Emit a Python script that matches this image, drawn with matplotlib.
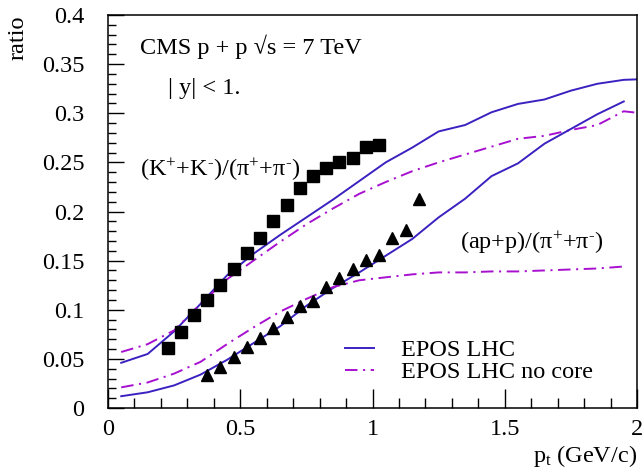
import numpy as np
import matplotlib
matplotlib.use("Agg")
from matplotlib import pyplot as plt
from matplotlib.ticker import MultipleLocator, FuncFormatter

# CMS data points
pt_kpi = [0.225, 0.275, 0.325, 0.375, 0.425, 0.475, 0.525, 0.575, 0.625,
          0.675, 0.725, 0.775, 0.825, 0.875, 0.925, 0.975, 1.025]
ratio_kpi = [0.0615, 0.0775, 0.0945, 0.1095, 0.125, 0.1415, 0.158, 0.173, 0.190,
             0.2063, 0.2237, 0.236, 0.2445, 0.2503, 0.2544, 0.2657, 0.268]

pt_ppi = [0.375, 0.425, 0.475, 0.525, 0.575, 0.625, 0.675, 0.725, 0.775,
          0.825, 0.875, 0.925, 0.975, 1.025, 1.075, 1.125, 1.175]
ratio_ppi = [0.0336, 0.0415, 0.0517, 0.0616, 0.0708, 0.0814, 0.0927, 0.1036, 0.1094,
             0.123, 0.1319, 0.1411, 0.1503, 0.1561, 0.1735, 0.1811, 0.2128]

# EPOS LHC curves
pt_model = [0.05, 0.15, 0.25, 0.35, 0.45, 0.55, 0.65, 0.75, 0.85, 0.95, 1.05,
            1.15, 1.25, 1.35, 1.45, 1.55, 1.65, 1.75, 1.85, 1.95, 2.05]
epos_kpi = [0.046, 0.055, 0.078, 0.106, 0.135, 0.157, 0.176, 0.194, 0.212, 0.231, 0.250,
            0.265, 0.2815, 0.288, 0.301, 0.3095, 0.314, 0.323, 0.330, 0.334, 0.335]
nocore_kpi = [0.057, 0.065, 0.079, 0.106, 0.131, 0.150, 0.169, 0.187, 0.203, 0.218, 0.230,
              0.241, 0.250, 0.258, 0.266, 0.274, 0.277, 0.283, 0.288, 0.302, 0.299]
epos_ppi = [0.012, 0.016, 0.023, 0.034, 0.049, 0.066, 0.083, 0.104, 0.122, 0.138, 0.155,
            0.172, 0.194, 0.213, 0.236, 0.249, 0.269, 0.284, 0.299, 0.312]
nocore_ppi = [0.021, 0.026, 0.035, 0.047, 0.065, 0.082, 0.098, 0.111, 0.123, 0.130, 0.133,
              0.136, 0.138, 0.138, 0.139, 0.139, 0.140, 0.141, 0.142, 0.144]

blue = '#3a22c0'
magenta = '#a810d0'
fs = 17.5

plt.rcParams['font.family'] = ['Liberation Serif', 'DejaVu Serif']
plt.rcParams['mathtext.fontset'] = 'custom'
plt.rcParams['mathtext.rm'] = 'Liberation Serif'
plt.rcParams['mathtext.it'] = 'Liberation Serif:italic'
plt.rcParams['lines.scale_dashes'] = False

fig = plt.figure(figsize=(6.42, 4.68), dpi=100)
ax = fig.add_axes([108 / 642, 1 - 408 / 468, 529 / 642, 393 / 468])

dashdot = (0, (9, 4, 1.5, 4))
l1, = ax.plot(pt_model, epos_kpi, color=blue, lw=1.4, label='EPOS LHC')
l2, = ax.plot(pt_model, nocore_kpi, color=magenta, lw=1.4, ls=dashdot,
              label='EPOS LHC no core')
ax.plot(pt_model[:len(epos_ppi)], epos_ppi, color=blue, lw=1.4)
ax.plot(pt_model[:len(nocore_ppi)], nocore_ppi, color=magenta, lw=1.4, ls=dashdot)

ax.plot(pt_kpi, ratio_kpi, 's', color='black', ms=8.5, ls='none')
ax.plot(pt_ppi, ratio_ppi, '^', color='black', ms=8.5, ls='none')

ax.set_xlim(0, 2)
ax.set_ylim(0, 0.4)
ax.xaxis.set_major_locator(MultipleLocator(0.5))
ax.xaxis.set_minor_locator(MultipleLocator(0.1))
ax.yaxis.set_major_locator(MultipleLocator(0.05))
ax.yaxis.set_minor_locator(MultipleLocator(0.01))
fmt = FuncFormatter(lambda v, p: '%g' % round(v, 3))
ax.xaxis.set_major_formatter(fmt)
ax.yaxis.set_major_formatter(fmt)
ax.tick_params(axis='x', which='major', direction='in', length=14, width=1, pad=8, labelsize=fs)
ax.tick_params(axis='x', which='minor', direction='in', length=7, width=1)
ax.tick_params(axis='y', which='major', direction='in', length=11.5, width=1, pad=17, labelsize=fs)
ax.tick_params(axis='y', which='minor', direction='in', length=5.8, width=1)
for s in ax.spines.values():
    s.set_linewidth(1.1)

ax.set_ylabel('ratio', fontsize=fs, loc='top')
ax.yaxis.set_label_coords(-0.15, 1.0)
ax.set_xlabel(r'p$_{\mathrm{t}}$ (GeV/c)', fontsize=fs, loc='right')
ax.xaxis.set_label_coords(1.0, -0.09)

ax.text(0.06, 0.918, 'CMS p + p √s = 7 TeV', transform=ax.transAxes,
        fontsize=fs, va='center', ha='left')
ax.text(0.113, 0.814, '| y| < 1.', transform=ax.transAxes,
        fontsize=fs, va='center', ha='left')
ax.text(0.06, 0.606, r'(K$^{+}$+K$^{\text{-}}$)/(π$^{+}$+π$^{\text{-}}$)', transform=ax.transAxes,
        fontsize=fs, va='center', ha='left')
ax.text(0.665, 0.42, r'(ap+p)/(π$^{+}$+π$^{\text{-}}$)', transform=ax.transAxes,
        fontsize=fs, va='center', ha='left')

ax.legend(handles=[l1, l2], loc='upper left', bbox_to_anchor=(0.448, 0.175),
          frameon=False, fontsize=fs, handlelength=1.2, handletextpad=1.1,
          labelspacing=0.0, borderpad=0, borderaxespad=0)

fig.savefig('out.png', dpi=100)
